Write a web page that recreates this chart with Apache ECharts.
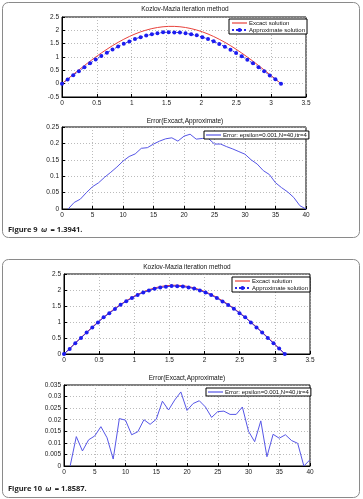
<!DOCTYPE html>
<html>
<head>
<meta charset="utf-8">
<script src="https://cdn.jsdelivr.net/npm/echarts@6/dist/echarts.min.js"></script>
<style>
  html, body { margin: 0; padding: 0; background: #fff; }
  #chart { width: 363px; height: 499px; }
</style>
</head>
<body>
<div id="chart"></div>
<script>
// x positions of the 40 nodes on [0, pi]
const xNodes = [0, 0.0806, 0.1611, 0.2417, 0.3222, 0.4028, 0.4833, 0.5639, 0.6444, 0.7250,
  0.8055, 0.8861, 0.9666, 1.0472, 1.1278, 1.2083, 1.2889, 1.3694, 1.4500, 1.5305,
  1.6111, 1.6916, 1.7722, 1.8527, 1.9333, 2.0138, 2.0944, 2.1750, 2.2555, 2.3361,
  2.4166, 2.4972, 2.5777, 2.6583, 2.7389, 2.8194, 2.9000, 2.9805, 3.0611, 3.1416]

const exact = [0, 0.173, 0.345, 0.514, 0.681, 0.843, 0.999, 1.149, 1.291, 1.426,
  1.550, 1.665, 1.769, 1.862, 1.943, 2.010, 2.065, 2.106, 2.134, 2.148,
  2.148, 2.134, 2.106, 2.065, 2.010, 1.943, 1.862, 1.769, 1.665, 1.550,
  1.426, 1.291, 1.149, 0.999, 0.843, 0.681, 0.514, 0.345, 0.173, 0]

// figure 9 (omega = 1.3941)
const approx9 = [0, 0.153, 0.315, 0.464, 0.613, 0.763, 0.902, 1.037, 1.163, 1.280,
  1.390, 1.497, 1.584, 1.675, 1.745, 1.803, 1.851, 1.889, 1.927, 1.926,
  1.920, 1.921, 1.891, 1.850, 1.812, 1.745, 1.672, 1.586, 1.490, 1.383,
  1.276, 1.154, 1.032, 0.894, 0.763, 0.616, 0.462, 0.310, 0.163, 0]

// figure 10 (omega = 1.8587)
const approx10 = [0, 0.160, 0.339, 0.503, 0.668, 0.826, 0.987, 1.146, 1.271, 1.406,
  1.537, 1.650, 1.749, 1.844, 1.923, 1.982, 2.041, 2.078, 2.102, 2.124,
  2.121, 2.106, 2.081, 2.044, 1.987, 1.919, 1.840, 1.747, 1.640, 1.535,
  1.416, 1.272, 1.145, 0.985, 0.831, 0.668, 0.503, 0.335, 0.173, 0]

const errIdx = [1, 2, 3, 4, 5, 6, 7, 8, 9, 10, 11, 12, 13, 14, 15, 16, 17, 18, 19, 20,
  21, 22, 23, 24, 25, 26, 27, 28, 29, 30, 31, 32, 33, 34, 35, 36, 37, 38, 39, 40]

const err9 = [0, 0.020, 0.030, 0.050, 0.068, 0.080, 0.097, 0.112, 0.128, 0.146,
  0.160, 0.168, 0.185, 0.187, 0.198, 0.207, 0.214, 0.217, 0.207, 0.222,
  0.228, 0.213, 0.215, 0.215, 0.198, 0.198, 0.190, 0.183, 0.175, 0.167,
  0.150, 0.137, 0.117, 0.105, 0.080, 0.065, 0.052, 0.035, 0.010, 0]

const err10 = [0, 0.0127, 0.0065, 0.0113, 0.0130, 0.0170, 0.0122, 0.0030, 0.0205, 0.0198,
  0.0135, 0.0148, 0.0200, 0.0180, 0.0202, 0.0280, 0.0242, 0.0285, 0.0320, 0.0240,
  0.0270, 0.0282, 0.0255, 0.0210, 0.0235, 0.0237, 0.0223, 0.0223, 0.0255, 0.0150,
  0.0105, 0.0195, 0.0040, 0.0137, 0.0120, 0.0135, 0.0110, 0.0098, 0, 0.0027]

const topTitle = "Kozlov-Mazia iteration method"
const errTitle = "Error(Excact,Approximate)"
const exactName = "Excact solution"
const approxName = "Approximate solution"
const errName = "Error: epsilon=0.001,N=40,itr=4"

const zip = (xs, ys) => xs.map((x, i) => [x, ys[i]])

const font = "Liberation Sans"
const labelStyle = { fontSize: 6.5, color: "#222", fontFamily: font }
const lineIcon = "path://M0,0L15,0L15,1.2L0,1.2Z"

const grids = [
  { left: 62, top: 17, width: 244, height: 80 },
  { left: 62, top: 127, width: 244, height: 82 },
  { left: 64, top: 274, width: 246, height: 80 },
  { left: 64, top: 385, width: 246, height: 81 },
]

const makeX = (gridIndex, max, interval) => ({
  type: "value",
  gridIndex,
  min: 0,
  max,
  interval,
  axisLine: { show: true, onZero: false, lineStyle: { color: "#000", width: 1 } },
  axisTick: { show: true, inside: true, length: 3, lineStyle: { color: "#000" } },
  axisLabel: { ...labelStyle, margin: 3 },
  splitLine: { show: true, lineStyle: { color: "#aaa", type: [1, 2], width: 0.8 } },
})

const makeY = (gridIndex, min, max, interval) => ({
  type: "value",
  gridIndex,
  min,
  max,
  interval,
  axisLine: { show: true, onZero: false, lineStyle: { color: "#000", width: 1 } },
  axisTick: { show: true, inside: true, length: 3, lineStyle: { color: "#000" } },
  axisLabel: { ...labelStyle, margin: 3 },
  splitLine: { show: true, lineStyle: { color: "#aaa", type: [1, 2], width: 0.8 } },
})

const titleAt = (text, x, y) => ({
  text,
  left: x,
  top: y,
  padding: 0,
  textAlign: "center",
  textStyle: { fontSize: 6.5, fontWeight: "normal", color: "#111", fontFamily: font },
})

const legendAt = (data, left, top) => ({
  data,
  left,
  top,
  orient: "vertical",
  itemGap: 1,
  itemWidth: 15,
  itemHeight: 5,
  padding: [1, 2, 1, 2],
  backgroundColor: "#fff",
  borderColor: "#000",
  borderWidth: 1,
  borderRadius: 0,
  selectedMode: false,
  textStyle: { fontSize: 6, color: "#111", fontFamily: font, padding: [0, 0, 0, -3] },
})

const exactSeries = (idx) => ({
  name: exactName,
  type: "line",
  xAxisIndex: idx,
  yAxisIndex: idx,
  data: zip(xNodes, exact),
  showSymbol: false,
  symbol: "none",
  lineStyle: { color: "#e8423c", width: 1 },
  itemStyle: { color: "#e8423c" },
  z: 3,
})

const approxSeries = (idx, values, dash) => ({
  name: approxName,
  type: "line",
  xAxisIndex: idx,
  yAxisIndex: idx,
  data: zip(xNodes, values),
  symbol: "circle",
  symbolSize: 4,
  lineStyle: { color: "#2a2ae8", width: 1, type: dash },
  itemStyle: { color: "#1c1cf0" },
  z: 4,
})

const errSeries = (idx, values) => ({
  name: errName,
  type: "line",
  xAxisIndex: idx,
  yAxisIndex: idx,
  data: zip(errIdx, values),
  showSymbol: false,
  symbol: "none",
  lineStyle: { color: "#5656e6", width: 1 },
  itemStyle: { color: "#5656e6" },
})

const caption = (label, omega, y) => ({
  type: "text",
  left: 8,
  top: y,
  style: {
    text: "{b|" + label + "} {i|ω} {n|= " + omega + ".}",
    rich: {
      b: { fontSize: 7.5, fontWeight: "bold", fill: "#222", fontFamily: "Open Sans" },
      i: { fontSize: 7.5, fontStyle: "italic", fontWeight: "bold", fill: "#222", fontFamily: "Open Sans" },
      n: { fontSize: 7.5, fontWeight: "bold", fill: "#222", fontFamily: "Open Sans" },
    },
  },
})

const chart = echarts.init(document.getElementById("chart"), null, { renderer: "canvas" })

chart.setOption({
  backgroundColor: "#fff",
  animation: false,
  title: [
    titleAt(topTitle, 185, 6),
    titleAt(errTitle, 185, 118),
    titleAt(topTitle, 187, 264),
    titleAt(errTitle, 187, 375),
  ],
  legend: [
    legendAt([{ name: exactName, icon: lineIcon }, approxName], 229, 19),
    legendAt([{ name: errName, icon: lineIcon }], 204, 131),
    legendAt([{ name: exactName, icon: lineIcon }, approxName], 232, 277),
    legendAt([{ name: errName, icon: lineIcon }], 206, 388),
  ],
  grid: grids.map((g) => ({ ...g, show: true, borderColor: "#000", borderWidth: 1, backgroundColor: "#fff" })),
  xAxis: [makeX(0, 3.5, 0.5), makeX(1, 40, 5), makeX(2, 3.5, 0.5), makeX(3, 40, 5)],
  yAxis: [makeY(0, -0.5, 2.5, 0.5), makeY(1, 0, 0.25, 0.05), makeY(2, 0, 2.5, 0.5), makeY(3, 0, 0.035, 0.005)],
  series: [
    exactSeries(0),
    approxSeries(0, approx9, [2, 2]),
    errSeries(1, err9),
    exactSeries(2),
    approxSeries(2, approx10, "solid"),
    errSeries(3, err10),
  ],
  graphic: [
    { type: "rect", shape: { x: 2.5, y: 2.5, width: 357, height: 235, r: 6 }, style: { fill: "none", stroke: "#8a8a8a", lineWidth: 1 }, z: -1 },
    { type: "rect", shape: { x: 2.5, y: 259.5, width: 357, height: 238, r: 6 }, style: { fill: "none", stroke: "#8a8a8a", lineWidth: 1 }, z: -1 },
    caption("Figure 9", "1.3941", 224),
    caption("Figure 10", "1.8587", 483),
  ],
})
</script>
</body>
</html>
